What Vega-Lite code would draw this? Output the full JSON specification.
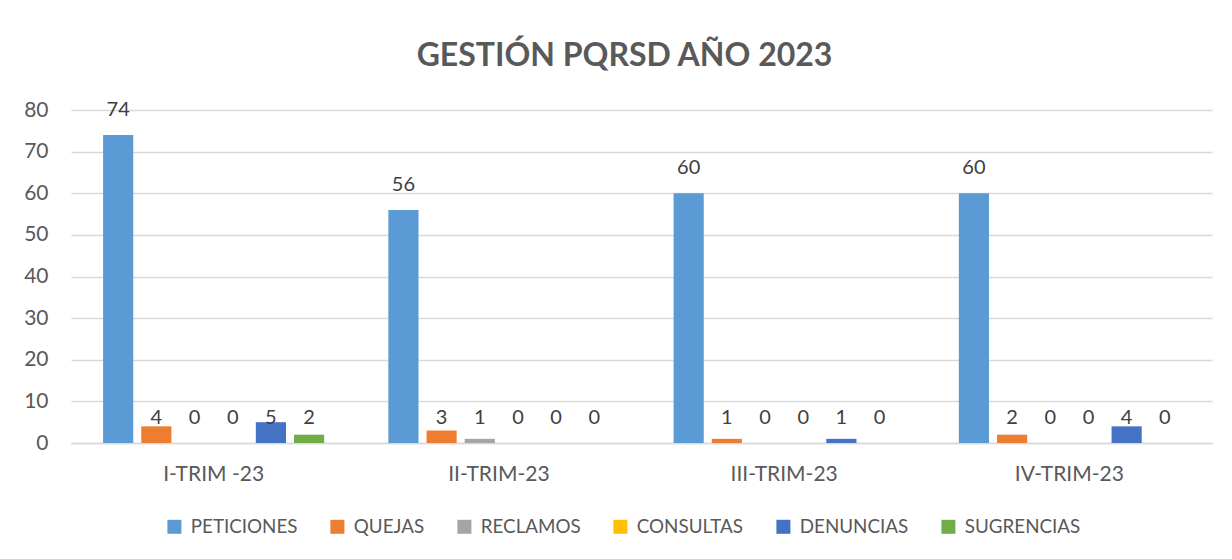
{
  "$schema": "https://vega.github.io/schema/vega-lite/v6.json",
  "width": 1141,
  "height": 333,
  "autosize": "none",
  "padding": {"left": 71, "top": 110, "right": 20, "bottom": 116},
  "background": "white",
  "title": {
    "text": "GESTIÓN PQRSD AÑO 2023",
    "font": "Lato",
    "fontSize": 32,
    "fontWeight": "bold",
    "color": "#595959",
    "anchor": "middle",
    "dx": -17,
    "offset": 26
  },
  "data": {
    "values": [
      {"trim": "I-TRIM -23", "tipo": "PETICIONES", "value": 74},
      {"trim": "I-TRIM -23", "tipo": "QUEJAS", "value": 4},
      {"trim": "I-TRIM -23", "tipo": "RECLAMOS", "value": 0},
      {"trim": "I-TRIM -23", "tipo": "CONSULTAS", "value": 0},
      {"trim": "I-TRIM -23", "tipo": "DENUNCIAS", "value": 5},
      {"trim": "I-TRIM -23", "tipo": "SUGRENCIAS", "value": 2},
      {"trim": "II-TRIM-23", "tipo": "PETICIONES", "value": 56},
      {"trim": "II-TRIM-23", "tipo": "QUEJAS", "value": 3},
      {"trim": "II-TRIM-23", "tipo": "RECLAMOS", "value": 1},
      {"trim": "II-TRIM-23", "tipo": "CONSULTAS", "value": 0},
      {"trim": "II-TRIM-23", "tipo": "DENUNCIAS", "value": 0},
      {"trim": "II-TRIM-23", "tipo": "SUGRENCIAS", "value": 0},
      {"trim": "III-TRIM-23", "tipo": "PETICIONES", "value": 60},
      {"trim": "III-TRIM-23", "tipo": "QUEJAS", "value": 1},
      {"trim": "III-TRIM-23", "tipo": "RECLAMOS", "value": 0},
      {"trim": "III-TRIM-23", "tipo": "CONSULTAS", "value": 0},
      {"trim": "III-TRIM-23", "tipo": "DENUNCIAS", "value": 1},
      {"trim": "III-TRIM-23", "tipo": "SUGRENCIAS", "value": 0},
      {"trim": "IV-TRIM-23", "tipo": "PETICIONES", "value": 60},
      {"trim": "IV-TRIM-23", "tipo": "QUEJAS", "value": 2},
      {"trim": "IV-TRIM-23", "tipo": "RECLAMOS", "value": 0},
      {"trim": "IV-TRIM-23", "tipo": "CONSULTAS", "value": 0},
      {"trim": "IV-TRIM-23", "tipo": "DENUNCIAS", "value": 4},
      {"trim": "IV-TRIM-23", "tipo": "SUGRENCIAS", "value": 0}
    ]
  },
  "encoding": {
    "x": {
      "field": "trim",
      "type": "nominal",
      "sort": null,
      "scale": {"paddingInner": 0.225, "paddingOuter": 0.1125},
      "axis": {
        "title": null,
        "labelAngle": 0,
        "labelFont": "Lato",
        "labelFontSize": 21,
        "labelColor": "#595959",
        "labelPadding": 20,
        "ticks": false,
        "domainColor": "#d9d9d9",
        "domainWidth": 1.5
      }
    },
    "xOffset": {
      "field": "tipo",
      "type": "nominal",
      "sort": ["PETICIONES", "QUEJAS", "RECLAMOS", "CONSULTAS", "DENUNCIAS", "SUGRENCIAS"],
      "scale": {"paddingInner": 0.21, "paddingOuter": 0}
    }
  },
  "layer": [
    {
      "mark": {"type": "bar"},
      "encoding": {
        "y": {
          "field": "value",
          "type": "quantitative",
          "scale": {"domain": [0, 80]},
          "axis": {
            "title": null,
            "values": [0, 10, 20, 30, 40, 50, 60, 70, 80],
            "labelFont": "Lato",
            "labelFontSize": 21,
            "labelColor": "#595959",
            "labelPadding": 23,
            "ticks": false,
            "domain": false,
            "gridColor": "#d9d9d9",
            "gridWidth": 1.3
          }
        },
        "color": {
          "field": "tipo",
          "type": "nominal",
          "scale": {
            "domain": ["PETICIONES", "QUEJAS", "RECLAMOS", "CONSULTAS", "DENUNCIAS", "SUGRENCIAS"],
            "range": ["#5B9BD5", "#ED7D31", "#A5A5A5", "#FFC000", "#4472C4", "#70AD47"]
          },
          "legend": {
            "title": null,
            "orient": "none",
            "direction": "horizontal",
            "legendX": 94,
            "legendY": 407,
            "symbolType": "square",
            "symbolSize": 196,
            "symbolStrokeWidth": 0,
            "labelFont": "Lato",
            "labelFontSize": 18.8,
            "labelColor": "#595959",
            "labelOffset": 7,
            "columnPadding": 30
          }
        }
      }
    },
    {
      "transform": [
        {"calculate": "datum.value > 10 ? datum.value : 0", "as": "labelPos"}
      ],
      "mark": {
        "type": "text",
        "font": "Lato",
        "fontSize": 20,
        "color": "#404040",
        "baseline": "middle",
        "dy": -25
      },
      "encoding": {
        "y": {"field": "labelPos", "type": "quantitative"},
        "text": {"field": "value", "type": "quantitative"}
      }
    }
  ],
  "config": {
    "view": {"stroke": null}
  }
}
